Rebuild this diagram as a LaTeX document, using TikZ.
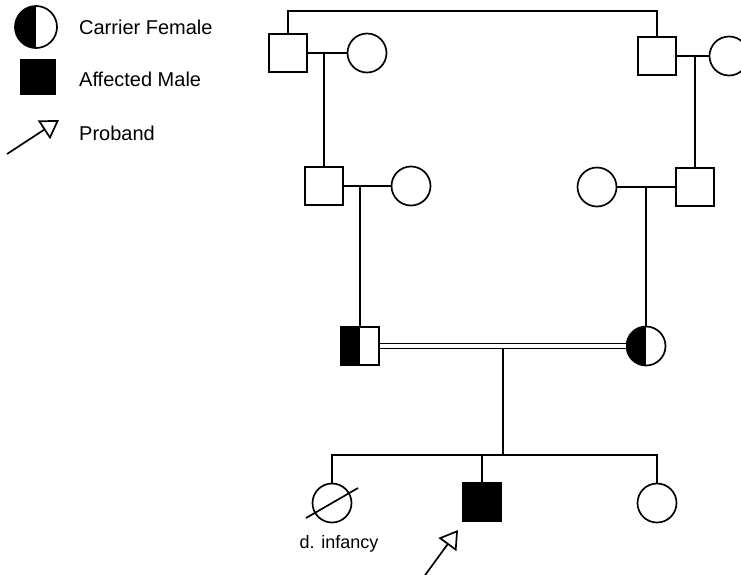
\documentclass[tikz,border=0pt]{standalone}
\usepackage{fontspec}
\setmainfont{Liberation Sans}
\usetikzlibrary{arrows.meta,calc}

\begin{document}
\begin{tikzpicture}[x=1pt,y=1pt,line width=1.7pt,
    male/.style={draw,rectangle,minimum size=38pt,inner sep=0pt},
    female/.style={draw,circle,minimum size=39pt,inner sep=0pt},
    carrier/.style={path picture={\fill (path picture bounding box.south west) rectangle (path picture bounding box.north);}},
    affected/.style={fill=black},
    proband/.style={-{Triangle[open,length=18pt,width=22pt]}},
    legendtext/.style={anchor=west,font=\fontsize{20}{24}\selectfont}]
    \useasboundingbox (0,0) rectangle (741,-574);

    % Legend
    \node[female,carrier,minimum size=42pt] (lgCarrier) at (36,-27) {};
    \node[legendtext] (lgCarrierText) at (75,-27) {Carrier Female};
    \node[male,affected,minimum size=35pt] (lgAffected) at (38,-77) {};
    \node[legendtext] (lgAffectedText) at (75,-79) {Affected Male};
    \coordinate (lgTail) at (7,-154);
    \coordinate (lgTip) at (59,-120);
    \draw[proband] (lgTail) -- (lgTip);
    \node[legendtext] (lgProbandText) at (75,-133) {Proband};

    % Generation I
    \node[male] (I1) at (288,-53) {};
    \node[female] (I2) at (367,-53) {};
    \node[male] (I3) at (657,-56) {};
    \node[female] (I4) at (729,-56) {};

    % Generation II
    \node[male] (II1) at (324,-186) {};
    \node[female] (II2) at (411,-186) {};
    \node[female] (II3) at (597,-187) {};
    \node[male] (II4) at (695,-187) {};

    % Generation III
    \node[male,carrier] (III1) at (360,-346) {};
    \node[female,carrier] (III2) at (646,-346) {};

    % Generation IV
    \node[female] (IV1) at (332,-503) {};
    \node[male,affected] (IV2) at (482,-502) {};
    \node[female] (IV3) at (657,-503) {};

    % Marriages
    \draw (I1) -- (I2);
    \draw (I3) -- (I4);
    \draw (II1) -- (II2);
    \draw (II3) -- (II4);
    \draw[double,double distance=3.2pt] (III1) -- (III2);

    % Sibs of generation I and descent lines
    \draw (I1.north) -- ++(0,22) -| (I3.north);
    \draw (II1.north) -- (II1 |- I1.east);
    \draw (II4.north) -- (II4 |- I3.west);
    \draw (III1.north) -- (III1 |- II1.east);
    \draw (III2.north) -- (III2 |- II3.east);

    % Sibship of generation IV
    \coordinate (sib) at (0,-455);
    \coordinate (mid) at ($(III1.east)!0.5!(III2.west)$);
    \draw ($(mid)+(0,-2.5)$) -- (mid |- sib);
    \draw (IV1.north) |- (sib -| IV3.north) -- (IV3.north);
    \draw (IV2.north) -- (IV2 |- sib);

    % Deceased and proband
    \draw ([shift={(-26,-15)}]IV1.center) -- ([shift={(26,15)}]IV1.center);
    \node[anchor=base,font=\fontsize{18}{22}\selectfont] (dInfancy) at ($(IV1.south)+(7,-25)$) {d. infancy};
    \coordinate (pbTail) at (423,-578);
    \coordinate (pbTip) at (458,-530);
    \draw[proband] (pbTail) -- (pbTip);
\end{tikzpicture}
\end{document}
